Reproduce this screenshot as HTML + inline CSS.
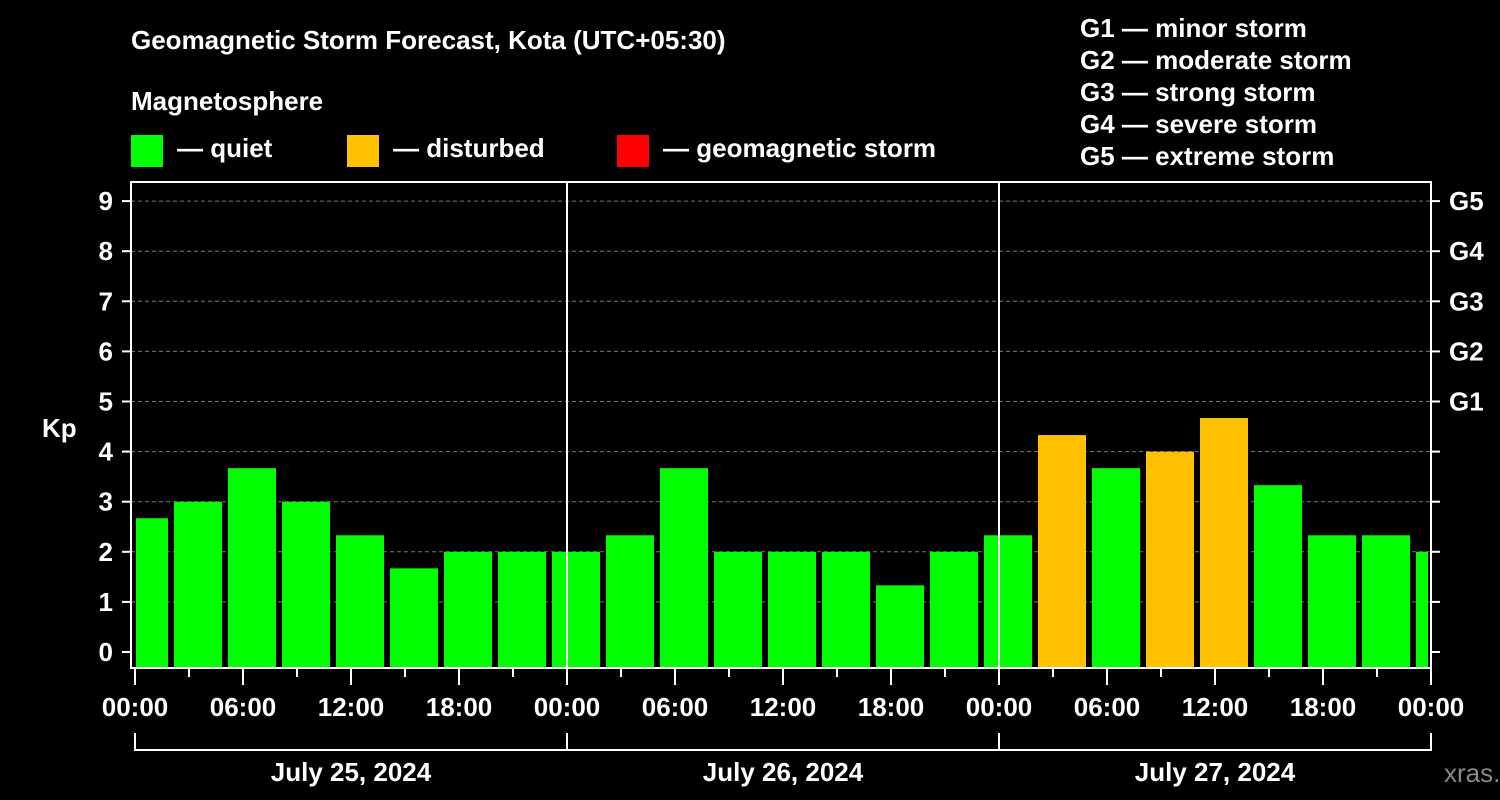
<!DOCTYPE html>
<html><head><meta charset="utf-8"><style>
body{margin:0;background:#000;width:1500px;height:800px;overflow:hidden}
svg{display:block;font-family:"Liberation Sans",Arial,sans-serif;font-weight:bold}
</style></head><body>
<svg id="c" width="1500" height="800" xmlns="http://www.w3.org/2000/svg">
<rect width="1500" height="800" fill="#000"/>
<text x="131" y="49" fill="#fff" font-size="26">Geomagnetic Storm Forecast, Kota (UTC+05:30)</text>
<text x="131" y="110" fill="#fff" font-size="26">Magnetosphere</text>
<g><rect x="131" y="135" width="32" height="32" fill="#00ff00"/><text x="177" y="157" fill="#fff" font-size="26">— quiet</text></g>
<g><rect x="347" y="135" width="32" height="32" fill="#ffc000"/><text x="393" y="157" fill="#fff" font-size="26">— disturbed</text></g>
<g><rect x="617" y="135" width="32" height="32" fill="#ff0000"/><text x="663" y="157" fill="#fff" font-size="26">— geomagnetic storm</text></g>
<g fill="#fff" font-size="26">
<text x="1080" y="37">G1 — minor storm</text><text x="1080" y="69">G2 — moderate storm</text><text x="1080" y="101">G3 — strong storm</text><text x="1080" y="133">G4 — severe storm</text><text x="1080" y="165">G5 — extreme storm</text></g>
<text x="42" y="437" fill="#fff" font-size="26">Kp</text>
<text x="1444" y="782" fill="#888" font-size="26" font-weight="normal">xras.ru</text>
<g id="g"></g>
</svg>
<script>
const kpValues=[2.67,3,3.67,3,2.33,1.67,2,2,2,2.33,3.67,2,2,2,1.33,2,2.33,4.33,3.67,4,4.67,3.33,2.33,2.33,2];
const startHours=[-1,2,5,8,11,14,17,20,23,26,29,32,35,38,41,44,47,50,53,56,59,62,65,68,71];
const yTicks=[0,1,2,3,4,5,6,7,8,9];
const gLabels=["","","","","","G1","G2","G3","G4","G5"];
const xTickLabels=["00:00","06:00","12:00","18:00","00:00","06:00","12:00","18:00","00:00","06:00","12:00","18:00","00:00"];
const dayLabels=["July 25, 2024","July 26, 2024","July 27, 2024"];
const NS="http://www.w3.org/2000/svg",g=document.getElementById('g');
const L=131,R=1431,T=182,B=668;
const x=h=>135+h*18, y=k=>652-k*50.1;
function el(t,a,txt){const e=document.createElementNS(NS,t);for(const k in a)e.setAttribute(k,a[k]);if(txt!==undefined)e.textContent=txt;g.appendChild(e);return e;}
yTicks.forEach((k,i)=>{
 if(k>0){const l=el('line',{x1:L,x2:R,y1:y(k),y2:y(k),stroke:'#777','stroke-dasharray':'4,3','stroke-width':1});
 
 }
 const t1=el('line',{x1:122,x2:L,y1:y(k),y2:y(k),stroke:'#fff','stroke-width':2});
 
 
 const t2=el('line',{x1:R,x2:R+9,y1:y(k),y2:y(k),stroke:'#fff','stroke-width':2});
 
 
 const tl=el('text',{x:113,y:y(k)+9,fill:'#fff','font-size':26,'text-anchor':'end'},String(k));
 
 
 if(gLabels[i]){const gl=el('text',{x:1449,y:y(k)+9,fill:'#fff','font-size':26},gLabels[i]);
 
 }
});
kpValues.forEach((v,i)=>{
 const x0=Math.max(x(startHours[i])+3,136),x1=Math.min(x(startHours[i]+3)-3,1428);
 const r=el('rect',{x:x0,y:y(v),width:x1-x0,height:B-y(v),fill:v>=5?'#ff0000':(v>=4?'#ffc000':'#00ff00')});
 
 
});
[1,2].forEach(d=>{const l=el('line',{x1:x(d*24),x2:x(d*24),y1:T,y2:B,stroke:'#fff','stroke-width':2});
 
 });
const fr=el('rect',{x:L,y:T,width:R-L,height:B-T,fill:'none',stroke:'#fff','stroke-width':2});


for(let h=0;h<=72;h+=3){const major=h%6==0;
 const t=el('line',{x1:x(h),x2:x(h),y1:B,y2:major?685:677,stroke:'#fff','stroke-width':2});
 
 }
xTickLabels.forEach((s,i)=>{const t=el('text',{x:x(i*6),y:716,fill:'#fff','font-size':26,'text-anchor':'middle'},s);
 
 });
dayLabels.forEach((s,i)=>{
 const p=el('path',{d:`M${x(i*24)} 733V750H${x(i*24+24)}V733`,fill:'none',stroke:'#fff','stroke-width':2});
 
 
 const t=el('text',{x:x(i*24+12),y:781,fill:'#fff','font-size':26,'text-anchor':'middle'},s);
 
 });
</script>
</body></html>
